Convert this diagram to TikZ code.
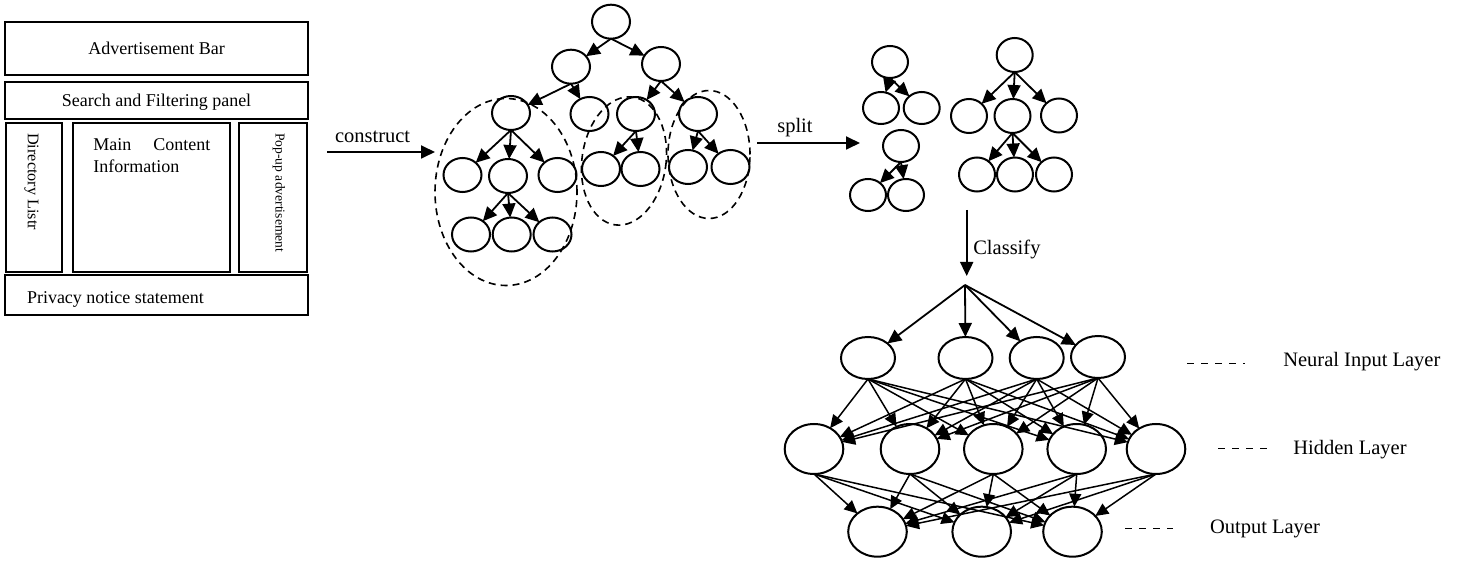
\documentclass[tikz,border=0pt]{standalone}
\usepackage{fontspec}
\setmainfont{Liberation Serif}
\usetikzlibrary{arrows.meta,shapes.geometric}
\begin{document}
\begin{tikzpicture}[x=0.5pt,y=-0.5pt,
  every node/.style={inner sep=0pt,outer sep=0pt},
  panelbox/.style={draw,rectangle,line width=1pt},
  treenode/.style={draw,ellipse,line width=1pt,minimum width=19pt,minimum height=17pt},
  splitnode/.style={draw,ellipse,line width=1pt,minimum width=18pt,minimum height=16pt},
  bignode/.style={draw,ellipse,line width=1pt,minimum width=18pt,minimum height=17pt},
  inputnode/.style={draw,ellipse,line width=1pt,minimum width=27pt,minimum height=21pt},
  layernode/.style={draw,ellipse,line width=1pt,minimum width=29.3pt,minimum height=25pt},
  group/.style={draw,ellipse,dash pattern=on 3.5pt off 2.5pt,line width=0.8pt},
  treearrow/.style={line width=0.9pt,-{Triangle[length=7pt,width=6.5pt]}},
  nnarrow/.style={line width=0.75pt,-{Triangle[length=6.5pt,width=6pt]}},
  biglabel/.style={font=\fontsize{10.25}{12}\selectfont},
  boxlabel/.style={font=\fontsize{9}{10.7}\selectfont},
  legendline/.style={line width=0.75pt,dash pattern=on 3.5pt off 3.5pt}
]
\fill[white] (0,0) rectangle (1463,561);
\useasboundingbox (0,0) rectangle (1463,561);

% ---------------- left panel ----------------
\node[panelbox,minimum width=151.5pt,minimum height=26.5pt] (adbar) at (156.5,48.5) {};
\node[panelbox,minimum width=151.5pt,minimum height=18.5pt] (search) at (156.5,100.5) {};
\node[panelbox,minimum width=28pt,minimum height=74.5pt] (dir) at (34,197.5) {};
\node[panelbox,minimum width=78.5pt,minimum height=74.5pt] (main) at (151.5,197.5) {};
\node[panelbox,minimum width=34pt,minimum height=74.5pt] (popup) at (273,197.5) {};
\node[panelbox,minimum width=151.5pt,minimum height=20pt] (privacy) at (156.5,295) {};

\node[boxlabel,anchor=base] (adbarT) at (156.5,55) {Advertisement Bar};
\node[boxlabel,anchor=base] (searchT) at (156.5,107) {Search and Filtering panel};
\node[boxlabel,anchor=base west] (privacyT) at (27,303.5) {Privacy notice statement};
\node[boxlabel,anchor=north west,text width=58.5pt,align=left] (mainT) at (93.3,139) {Main\hfill Content\\Information};
\node[font=\fontsize{8.1}{10}\selectfont,rotate=-90,anchor=west] (dirT) at (31.5,133.3) {Directory Listr};
\node[font=\fontsize{6.8}{8}\selectfont,rotate=-90,anchor=west] (popupT) at (279,133.3) {Pop-up advertisement};

% construct arrow
\coordinate (cs) at (327,152);
\coordinate (ce) at (435,152);
\draw[treearrow] (cs) -- (ce);
\node[biglabel,anchor=base west] (constructT) at (335,142.7) {construct};

% ---------------- DOM tree ----------------
\node[treenode] (t0) at (611,21.7) {};
\node[treenode] (t1) at (571,66.7) {};
\node[treenode] (t2) at (661,64) {};
\node[treenode] (a) at (511,113) {};
\node[treenode] (b) at (589.5,114) {};
\node[treenode] (c) at (636,114) {};
\node[treenode] (d) at (698,114) {};
\node[treenode] (a1) at (462.5,175) {};
\node[treenode] (a2) at (508,176) {};
\node[treenode] (a3) at (557.5,175) {};
\node[treenode] (c1) at (601,169) {};
\node[treenode] (c2) at (640.5,169) {};
\node[treenode] (d1) at (688,167) {};
\node[treenode] (d2) at (730.5,167) {};
\node[treenode] (a21) at (471,234.5) {};
\node[treenode] (a22) at (511.7,234.5) {};
\node[treenode] (a23) at (552.5,234.5) {};

\draw[treearrow] (t0.south) -- (t1);
\draw[treearrow] (t0.south) -- (t2);
\draw[treearrow] (t1.south) -- (a);
\draw[treearrow] (t1.south) -- (b);
\draw[treearrow] (t2.south) -- (c);
\draw[treearrow] (t2.south) -- (d);
\draw[treearrow] (a.south) -- (a1);
\draw[treearrow] (a.south) -- (a2);
\draw[treearrow] (a.south) -- (a3);
\draw[treearrow] (c.south) -- (c1);
\draw[treearrow] (c.south) -- (c2);
\draw[treearrow] (d.south) -- (d1);
\draw[treearrow] (d.south) -- (d2);
\draw[treearrow] (a2.south) -- (a21);
\draw[treearrow] (a2.south) -- (a22);
\draw[treearrow] (a2.south) -- (a23);

\node[group,minimum width=71pt,minimum height=93.5pt] (g1) at (506,192) {};
\node[group,minimum width=42pt,minimum height=64.5pt,rotate=-8] (g2) at (624,161) {};
\node[group,minimum width=41pt,minimum height=64pt] (g3) at (709,154.5) {};

% split arrow
\coordinate (ss) at (757,143);
\coordinate (se) at (860,143);
\draw[treearrow] (ss) -- (se);
\node[biglabel,anchor=base west] (splitT) at (777.3,132.3) {split};

% ---------------- split trees ----------------
\node[splitnode] (p0) at (890,62) {};
\node[splitnode] (p1) at (881,108) {};
\node[splitnode] (p2) at (921.7,108) {};
\draw[treearrow] (p0.south) -- (p1);
\draw[treearrow] (p0.south) -- (p2);

\node[splitnode] (q0) at (901,146) {};
\node[splitnode] (q1) at (868,195) {};
\node[splitnode] (q2) at (906,195) {};
\draw[treearrow] (q0.south) -- (q1);
\draw[treearrow] (q0.south) -- (q2);

\node[bignode] (r0) at (1014.7,55) {};
\node[bignode] (r1) at (969,116) {};
\node[bignode] (r2) at (1012.5,116) {};
\node[bignode] (r3) at (1059,115.5) {};
\node[bignode] (r21) at (977,174.5) {};
\node[bignode] (r22) at (1015,174.5) {};
\node[bignode] (r23) at (1054,174.5) {};
\draw[treearrow] (r0.south) -- (r1);
\draw[treearrow] (r0.south) -- (r2);
\draw[treearrow] (r0.south) -- (r3);
\draw[treearrow] (r2.south) -- (r21);
\draw[treearrow] (r2.south) -- (r22);
\draw[treearrow] (r2.south) -- (r23);

% classify arrow
\coordinate (cls) at (966.7,210);
\coordinate (cle) at (966.7,276);
\draw[treearrow] (cls) -- (cle);
\node[biglabel,anchor=base west] (classifyT) at (973.3,255) {Classify};

% ---------------- neural network ----------------
\coordinate (fan) at (965,285);
\node[inputnode] (i1) at (868,358) {};
\node[inputnode] (i2) at (965.5,358) {};
\node[inputnode] (i3) at (1036.7,358) {};
\node[inputnode] (i4) at (1098,357) {};
\node[layernode] (h1) at (814,449) {};
\node[layernode] (h2) at (910,449) {};
\node[layernode] (h3) at (993.3,449) {};
\node[layernode] (h4) at (1076.7,449) {};
\node[layernode] (h5) at (1156,449) {};
\node[layernode] (o1) at (877.5,531.7) {};
\node[layernode] (o2) at (981.7,531.7) {};
\node[layernode] (o3) at (1072.5,531.7) {};

\foreach \i in {i1,i2,i3,i4} \draw[treearrow] (fan) -- (\i);
\foreach \i in {i1,i2,i3,i4}
  \foreach \h in {h1,h2,h3,h4,h5}
    \draw[nnarrow] (\i.south) -- (\h);
\foreach \h in {h1,h2,h3,h4,h5}
  \foreach \o in {o1,o2,o3}
    \draw[nnarrow] (\h.south) -- (\o);

% legend
\coordinate (l1a) at (1187,363.5);
\coordinate (l1b) at (1245,363.5);
\coordinate (l2a) at (1218,448.3);
\coordinate (l2b) at (1267,448.3);
\coordinate (l3a) at (1125,528.3);
\coordinate (l3b) at (1173,528.3);
\draw[legendline] (l1a) -- (l1b);
\draw[legendline] (l2a) -- (l2b);
\draw[legendline] (l3a) -- (l3b);
\node[biglabel,anchor=base west] (inputT) at (1283.3,366.5) {Neural Input Layer};
\node[biglabel,anchor=base west] (hiddenT) at (1293.3,454.3) {Hidden Layer};
\node[biglabel,anchor=base west] (outputT) at (1210,533.6) {Output Layer};
\end{tikzpicture}
\end{document}
